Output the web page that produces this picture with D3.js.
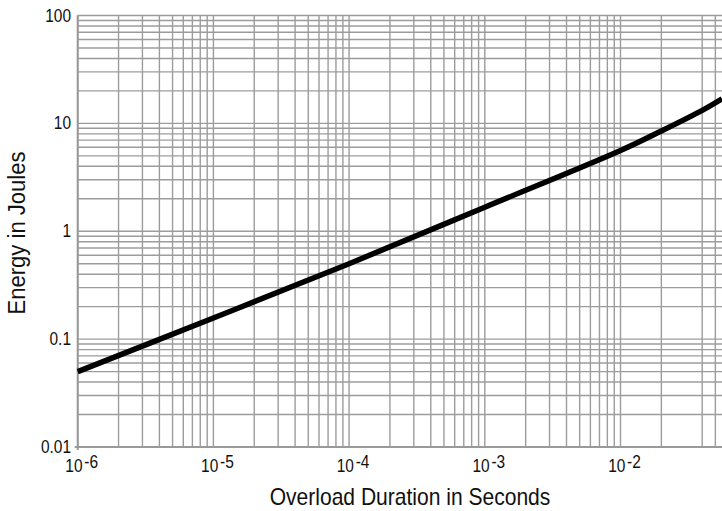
<!DOCTYPE html>
<html>
<head>
<meta charset="utf-8">
<script src="https://cdn.jsdelivr.net/npm/d3@7/dist/d3.min.js"></script>
<style>
  body { margin: 0; background: #fff; }
  svg { display: block; }
  text { font-family: 'Liberation Sans', Arial, sans-serif; fill: #111; }
</style>
</head>
<body>
<script>
const width = 722;
const height = 511;

// curve (seconds -> joules)
const durations = [1e-6, 1e-5, 1e-4, 1e-3, 1e-2, 2e-2, 4e-2, 5.6e-2];
const energies  = [0.05, 0.157, 0.5, 1.67, 5.6, 8.5, 13.2, 16.9];

const xDecades = [-6, -5, -4, -3, -2];
const yTicks = [0.01, 0.1, 1, 10, 100];
const yTickLabels = ["0.01", "0.1", "1", "10", "100"];
// the source grid has no line at 3e-2
const xGridSkip = [0.03];

const margin = { left: 77.7, top: 15.5, bottom: 447 };
const squeeze = 0.86; // condensed look of the original lettering

const x = d3.scaleLog().domain([1e-6, 1e-1]).range([margin.left, margin.left + 5 * 135.7]);
const y = d3.scaleLog().domain([0.01, 100]).range([margin.bottom, margin.top]);

const svg = d3.select("body").append("svg")
  .attr("width", width)
  .attr("height", height);

// minor/major grid values
const xGrid = [];
for (let e = -6; e <= -2; e++) {
  for (let m = 1; m <= 9; m++) {
    const v = m * Math.pow(10, e);
    if (!xGridSkip.some(s => Math.abs(s - v) / s < 1e-6)) xGrid.push(v);
  }
}
const yGrid = [];
for (let e = -2; e <= 1; e++) {
  for (let m = 1; m <= 9; m++) yGrid.push(m * Math.pow(10, e));
}
yGrid.push(100);

const grid = svg.append("g").attr("stroke", "#9c9c9c").attr("stroke-width", 1.4);

grid.selectAll(".vx").data(xGrid).enter().append("line")
  .attr("x1", d => x(d)).attr("x2", d => x(d))
  .attr("y1", margin.top).attr("y2", margin.bottom);

grid.selectAll(".hy").data(yGrid).enter().append("line")
  .attr("x1", margin.left).attr("x2", width)
  .attr("y1", d => y(d)).attr("y2", d => y(d));

// axes frame (left + bottom)
svg.append("line")
  .attr("x1", margin.left).attr("x2", margin.left)
  .attr("y1", margin.top).attr("y2", margin.bottom + 3)
  .attr("stroke", "#999").attr("stroke-width", 2);
svg.append("line")
  .attr("x1", margin.left - 3).attr("x2", width)
  .attr("y1", margin.bottom).attr("y2", margin.bottom)
  .attr("stroke", "#999").attr("stroke-width", 2);

// y tick labels
svg.append("g").selectAll("text").data(yTicks).enter().append("text")
  .attr("transform", d => `translate(71,${y(d) + 6}) scale(${squeeze},1)`)
  .attr("text-anchor", "end")
  .style("font-size", "18px")
  .text((d, i) => yTickLabels[i]);

// x tick labels: 10^-n
const xl = svg.append("g").selectAll("text").data(xDecades).enter().append("text")
  .attr("transform", d => `translate(${x(Math.pow(10, d)) + 4},472) scale(${squeeze},1)`)
  .attr("text-anchor", "middle")
  .style("font-size", "18px");
xl.append("tspan").text("10");
xl.append("tspan").attr("dy", -4).attr("dx", 2).text(d => "-" + (-d));

// axis titles
svg.append("text")
  .attr("transform", "translate(410,505) scale(0.915,1)")
  .attr("text-anchor", "middle")
  .style("font-size", "23px")
  .text("Overload Duration in Seconds");

svg.append("text")
  .attr("transform", "translate(25,233) rotate(-90) scale(0.96,1)")
  .attr("text-anchor", "middle")
  .style("font-size", "23px")
  .text("Energy in Joules");

// energy curve
const line = d3.line()
  .x((d, i) => x(durations[i]))
  .y(d => y(d))
  .curve(d3.curveCatmullRom.alpha(0.5));

svg.append("path")
  .datum(energies)
  .attr("d", line)
  .attr("fill", "none")
  .attr("stroke", "#000")
  .attr("stroke-width", 5.5)
  .attr("stroke-linecap", "butt");
</script>
</body>
</html>
